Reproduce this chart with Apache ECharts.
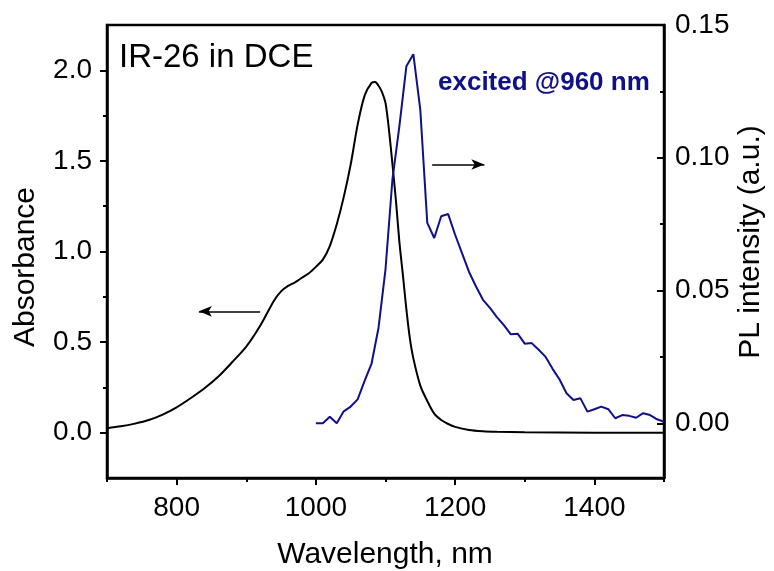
<!DOCTYPE html>
<html>
<head>
<meta charset="utf-8">
<script src="https://cdn.jsdelivr.net/npm/echarts@6/dist/echarts.min.js"></script>
<style>
html,body{margin:0;padding:0;background:#fff;}
#chart{width:774px;height:571px;}
</style>
</head>
<body>
<div id="chart"></div>
<script>
// Absorbance spectrum (wavelength nm, absorbance)
const absWavelength = [700,720,740,760,780,800,820,840,860,880,900,920,940,950,960,970,980,990,1000,1010,1020,1030,1040,1050,1060,1070,1080,1085,1090,1095,1100,1105,1110,1115,1120,1125,1130,1135,1140,1150,1160,1170,1180,1190,1200,1220,1240,1260,1300,1400,1500];
const absValues     = [0.025,0.035,0.05,0.07,0.10,0.14,0.19,0.245,0.31,0.39,0.475,0.59,0.73,0.78,0.81,0.83,0.855,0.88,0.915,0.955,1.03,1.15,1.30,1.48,1.70,1.86,1.93,1.935,1.915,1.88,1.82,1.67,1.48,1.28,1.05,0.87,0.68,0.52,0.41,0.26,0.175,0.105,0.07,0.048,0.032,0.015,0.008,0.005,0.002,0.0,0.0];
// PL spectrum (wavelength nm, intensity a.u.)
const plWavelength = [1000,1010,1020,1030,1040,1050,1060,1070,1080,1090,1100,1110,1120,1130,1140,1150,1160,1170,1180,1190,1200,1210,1220,1230,1240,1250,1260,1270,1280,1290,1300,1310,1320,1330,1340,1350,1360,1370,1380,1390,1400,1410,1420,1430,1440,1450,1460,1470,1480,1490,1500];
const plValues     = [0.0,0.0,0.0025,0.0,0.0045,0.0063,0.009,0.016,0.0225,0.036,0.058,0.092,0.112,0.1345,0.139,0.118,0.0755,0.0698,0.078,0.0788,0.071,0.064,0.057,0.0515,0.0465,0.0435,0.040,0.037,0.0335,0.0337,0.030,0.0302,0.0277,0.025,0.0205,0.0165,0.0113,0.0088,0.0094,0.0044,0.0053,0.0063,0.0053,0.0019,0.0031,0.0028,0.0021,0.0038,0.0031,0.0015,0.0006];
// Tick values
const xMajorTicks = [800,1000,1200,1400];
const xMinorTicks = [700,900,1100,1300,1500];
const absMajorTicks = [0,0.5,1.0,1.5,2.0];
const absMinorTicks = [0.25,0.75,1.25,1.75];
const plMajorTicks = [0,0.05,0.10,0.15];
const plMinorTicks = [0.025,0.075,0.125];
// Texts
const xTitle = 'Wavelength, nm';
const yLeftTitle = 'Absorbance';
const yRightTitle = 'PL intensity (a.u.)';
const sampleLabel = 'IR-26 in DCE';
const excitationLabel = 'excited @960 nm';
// Arrow annotations in data coordinates (absorbance axis)
const leftArrow = [[920,0.67],[832,0.67]];
const rightArrow = [[1167,1.48],[1242,1.48]];

const FONT = "'Liberation Sans', Arial, sans-serif";
const NAVY = '#10108a';

const absData = absWavelength.map((w,i)=>[w,absValues[i]]);
const plData = plWavelength.map((w,i)=>[w,plValues[i]]);

const chart = echarts.init(document.getElementById('chart'), null, {renderer:'canvas'});

const baseX = {type:'value', min:700, max:1500, splitLine:{show:false}, gridIndex:0};
const baseAbs = {type:'value', min:-0.25, max:2.25, splitLine:{show:false}};
const basePL = {type:'value', min:-0.0206, max:0.15, splitLine:{show:false}};

const arrowEnd = (p)=>({coord:p, symbol:'arrow', symbolSize:[8,13]});
const arrowStart = (p)=>({coord:p, symbol:'none', symbolSize:1});

const option = {
  animation:false,
  backgroundColor:'#fff',
  grid:{left:107, right:110, top:25, bottom:93, show:true, borderColor:'#000', borderWidth:2.5, backgroundColor:'transparent'},
  xAxis:[
    Object.assign({}, baseX, {
      position:'bottom',
      axisLine:{show:true, onZero:false, lineStyle:{color:'#000', width:2.5}},
      axisTick:{show:true, inside:false, length:7, lineStyle:{color:'#000', width:2}, customValues:xMajorTicks},
      axisLabel:{show:true, customValues:xMajorTicks, margin:16, color:'#000', fontSize:28, fontFamily:FONT,
        formatter:v=>String(Math.round(v))}
    }),
    Object.assign({}, baseX, {
      position:'bottom',
      axisLine:{show:false, onZero:false},
      axisTick:{show:true, inside:false, length:4, lineStyle:{color:'#000', width:2}, customValues:xMinorTicks},
      axisLabel:{show:false}
    })
  ],
  yAxis:[
    Object.assign({}, baseAbs, {
      position:'left',
      axisLine:{show:true, onZero:false, lineStyle:{color:'#000', width:2.5}},
      axisTick:{show:true, inside:false, length:7, lineStyle:{color:'#000', width:2}, customValues:absMajorTicks},
      axisLabel:{show:true, customValues:absMajorTicks, margin:15, color:'#000', fontSize:28, fontFamily:FONT,
        formatter:v=>Number(v).toFixed(1)}
    }),
    Object.assign({}, basePL, {
      position:'right',
      axisLine:{show:true, onZero:false, lineStyle:{color:'#000', width:2.5}},
      axisTick:{show:true, inside:true, length:7, lineStyle:{color:'#000', width:2}, customValues:plMajorTicks},
      axisLabel:{show:true, customValues:plMajorTicks, margin:11, color:'#000', fontSize:28, fontFamily:FONT,
        formatter:v=>Number(v).toFixed(2)}
    }),
    Object.assign({}, baseAbs, {
      position:'left', offset:0,
      axisLine:{show:false, onZero:false},
      axisTick:{show:true, inside:false, length:4, lineStyle:{color:'#000', width:2}, customValues:absMinorTicks},
      axisLabel:{show:false}
    }),
    Object.assign({}, basePL, {
      position:'right', offset:0,
      axisLine:{show:false, onZero:false},
      axisTick:{show:true, inside:true, length:4, lineStyle:{color:'#000', width:2}, customValues:plMinorTicks},
      axisLabel:{show:false}
    })
  ],
  series:[
    {
      name:'Absorbance', type:'line', xAxisIndex:0, yAxisIndex:0, data:absData,
      showSymbol:false, symbol:'none', smooth:0.3, silent:true,
      lineStyle:{color:'#000', width:2},
      markLine:{
        silent:true, symbol:['none','arrow'], symbolSize:12,
        label:{show:false},
        lineStyle:{color:'#000', width:1.6, type:'solid'},
        emphasis:{disabled:true},
        data:[
          [arrowStart(leftArrow[0]), arrowEnd(leftArrow[1])],
          [arrowStart(rightArrow[0]), arrowEnd(rightArrow[1])]
        ]
      }
    },
    {
      name:'PL', type:'line', xAxisIndex:0, yAxisIndex:1, data:plData,
      showSymbol:false, symbol:'none', smooth:false, silent:true,
      lineStyle:{color:NAVY, width:2}
    }
  ],
  graphic:[
    {type:'text', x:119, y:58, silent:true,
      style:{text:sampleLabel, fill:'#000', font:'33px '+FONT, textAlign:'left', textVerticalAlign:'middle'}},
    {type:'text', x:438, y:83, silent:true,
      style:{text:excitationLabel, fill:NAVY, font:'bold 26px '+FONT, textAlign:'left', textVerticalAlign:'middle'}},
    {type:'text', x:385, y:555, silent:true,
      style:{text:xTitle, fill:'#000', font:'30px '+FONT, textAlign:'center', textVerticalAlign:'middle'}},
    {type:'text', x:26, y:267, rotation:Math.PI/2, silent:true,
      style:{text:yLeftTitle, fill:'#000', font:'30px '+FONT, textAlign:'center', textVerticalAlign:'middle'}},
    {type:'text', x:751, y:242, rotation:Math.PI/2, silent:true,
      style:{text:yRightTitle, fill:'#000', font:'30px '+FONT, textAlign:'center', textVerticalAlign:'middle'}}
  ]
};
chart.setOption(option);
</script>
</body>
</html>
